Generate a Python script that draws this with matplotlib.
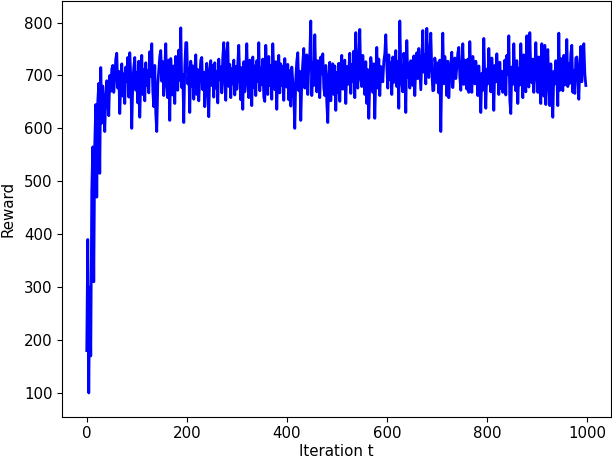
import numpy as np
import matplotlib
matplotlib.use("Agg")
import matplotlib.pyplot as plt

# reward, one value every 2 iterations (t = 0, 2, ..., 998)
step = 2
reward = [
    180, 390, 100, 300, 170, 480, 565, 310, 570, 645, 470, 650, 685, 515, 715, 610, 680, 640, 594, 660, 690, 650, 624, 700, 670,
    712, 719, 668, 695, 731, 742, 676, 708, 628, 684, 722, 661, 703, 647, 716, 688, 734, 659, 743, 697, 600, 686, 715, 734, 672,
    706, 648, 727, 621, 693, 738, 664, 711, 652, 724, 681, 709, 667, 745, 698, 760, 672, 641, 719, 628, 594, 683, 709, 736, 747,
    689, 726, 662, 714, 760, 681, 658, 729, 615, 732, 694, 663, 718, 647, 736, 685, 672, 748, 691, 790, 677, 702, 611, 716, 762,
    762, 684, 713, 630, 727, 679, 718, 655, 708, 739, 664, 711, 652, 696, 729, 734, 673, 706, 641, 699, 723, 667, 622, 712, 728,
    681, 719, 659, 724, 676, 708, 648, 731, 692, 716, 667, 734, 762, 688, 653, 745, 762, 679, 721, 658, 713, 684, 729, 663, 717,
    674, 722, 757, 691, 654, 715, 636, 726, 669, 712, 760, 683, 658, 729, 697, 643, 735, 677, 718, 662, 728, 689, 762, 671, 714,
    683, 731, 659, 651, 757, 702, 664, 736, 681, 719, 655, 760, 707, 673, 726, 636, 714, 738, 667, 722, 681, 717, 653, 732, 695,
    678, 721, 654, 709, 642, 716, 688, 661, 600, 694, 727, 743, 671, 708, 615, 689, 724, 751, 676, 713, 739, 664, 718, 740, 803,
    662, 724, 681, 777, 697, 669, 728, 684, 658, 735, 703, 741, 676, 662, 719, 648, 611, 702, 725, 652, 697, 722, 664, 718, 634,
    706, 668, 723, 651, 714, 738, 674, 692, 729, 647, 717, 683, 709, 742, 666, 721, 689, 746, 658, 781, 702, 676, 733, 787, 694,
    679, 738, 702, 664, 726, 647, 711, 619, 687, 734, 716, 668, 722, 619, 698, 753, 676, 731, 662, 717, 704, 688, 727, 741, 777,
    718, 676, 739, 692, 724, 664, 735, 687, 713, 747, 679, 726, 638, 803, 711, 684, 669, 742, 718, 630, 766, 697, 723, 676, 728,
    703, 681, 737, 662, 719, 743, 694, 751, 712, 673, 728, 785, 706, 739, 684, 789, 717, 696, 747, 780, 709, 671, 672, 733, 718,
    686, 724, 667, 729, 594, 708, 780, 684, 736, 715, 662, 727, 658, 699, 721, 744, 677, 708, 733, 694, 716, 742, 753, 698, 672,
    718, 760, 683, 729, 706, 674, 731, 668, 764, 702, 668, 736, 711, 684, 727, 699, 662, 718, 681, 630, 704, 672, 770, 693, 638,
    712, 684, 751, 706, 669, 733, 697, 634, 719, 688, 741, 703, 664, 725, 675, 708, 668, 694, 729, 663, 738, 702, 775, 653, 628,
    716, 683, 760, 697, 671, 728, 647, 714, 682, 760, 703, 658, 739, 692, 669, 775, 711, 678, 781, 706, 686, 731, 668, 709, 762,
    703, 668, 735, 682, 647, 760, 694, 661, 757, 645, 716, 749, 677, 643, 722, 668, 621, 708, 684, 728, 697, 643, 780, 672, 732,
    697, 671, 738, 682, 714, 768, 679, 723, 685, 741, 757, 668, 709, 666, 733, 735, 694, 655, 718, 755, 688, 736, 760, 704, 681,
]
iterations = np.arange(len(reward)) * step


def main():
    plt.rcParams["font.size"] = 10.8
    fig, ax = plt.subplots(figsize=(6.12, 4.58), dpi=100)
    fig.subplots_adjust(left=0.101, right=0.998, top=0.997, bottom=0.09)
    ax.plot(iterations, reward, color="b", linewidth=2)
    ax.set_ylim(55, 840)
    ax.tick_params(pad=3)
    ax.set_xlabel("Iteration t", labelpad=2)
    ax.set_ylabel("Reward", labelpad=6)
    fig.savefig("out.png", dpi=100)


if __name__ == '__main__':
    main()
